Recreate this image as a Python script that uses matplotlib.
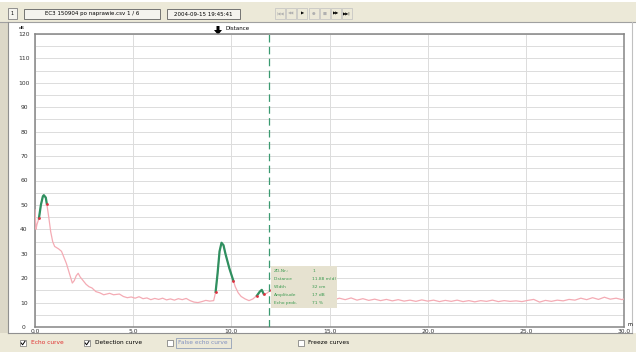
import numpy as np
import matplotlib
matplotlib.use('Agg')
import matplotlib.pyplot as plt
from matplotlib.patches import Rectangle, Polygon

# === Echo curve (distance in m, level in dB) ===
echo_dist = [0.0, 0.05, 0.1, 0.2, 0.3, 0.4, 0.45, 0.55, 0.6, 0.7, 0.8, 0.9, 1.0, 1.1, 1.2,
             1.35, 1.5, 1.6, 1.75, 1.9, 2.0, 2.1, 2.2, 2.3, 2.45, 2.6, 2.75, 2.9, 3.1, 3.3,
             3.5, 3.8, 4.0, 4.3, 4.5, 4.7, 4.9, 5.1, 5.3, 5.5, 5.7, 5.9, 6.1, 6.3, 6.5, 6.7,
             6.9, 7.1, 7.3, 7.5, 7.7, 7.9, 8.1, 8.3, 8.5, 8.7, 8.9, 9.1, 9.15, 9.2, 9.3, 9.4,
             9.5, 9.6, 9.7, 9.8, 9.9, 10.0, 10.1, 10.2, 10.35, 10.5, 10.7, 10.9, 11.1, 11.2,
             11.3, 11.45, 11.55, 11.65, 11.8, 12.0, 12.2, 12.5, 12.8, 13.2, 13.6, 14.0, 14.4,
             14.8, 15.2, 15.5, 15.8, 16.1, 16.4, 16.7, 17.0, 17.3, 17.6, 17.9, 18.2, 18.5,
             18.8, 19.1, 19.4, 19.7, 20.0, 20.3, 20.6, 20.9, 21.2, 21.5, 21.8, 22.1, 22.4,
             22.7, 23.0, 23.3, 23.6, 23.9, 24.2, 24.5, 24.8, 25.1, 25.4, 25.7, 26.0, 26.3,
             26.6, 26.9, 27.2, 27.5, 27.8, 28.1, 28.4, 28.7, 29.0, 29.3, 29.6, 29.9, 30.0]
echo_db = [48, 40, 42, 44.5, 50, 53.5, 54, 53, 50.5, 45, 39, 35, 33, 32.5, 32,
           31, 28, 26, 22, 18, 19, 21, 22, 20.5, 19, 17.5, 16.5, 16, 14.5, 14,
           13.2, 13.8, 13.2, 13.5, 12.5, 12.0, 12.3, 11.8, 12.4, 11.6, 11.9, 11.2, 11.7, 11.3, 11.8, 11.1,
           11.5, 11.0, 11.6, 11.2, 11.7, 10.8, 10.2, 10.0, 10.4, 10.9, 10.6, 10.8, 12.5, 14.4, 22, 31,
           34.5, 33.5, 30, 27, 24, 21.5, 19, 16.5, 14, 12.5, 11.5, 10.8, 11.5, 12.2,
           12.8, 14.5, 15.2, 13.5, 13.8, 15, 12.5, 11.5, 11.2, 11.0, 11.3, 10.8, 11.2,
           11.5, 11.0, 11.8, 11.2, 11.9, 11.0, 11.6, 10.9, 11.4, 10.8, 11.3, 10.7, 11.2,
           10.6, 11.0, 10.5, 11.1, 10.6, 11.0, 10.4, 10.9, 10.5, 11.0, 10.4, 10.8, 10.3,
           10.8, 10.5, 11.0, 10.4, 10.8, 10.5, 10.7, 10.4, 10.9, 11.3, 10.2, 10.9, 10.5,
           11.0, 10.7, 11.3, 11.0, 11.8, 11.2, 12.0, 11.3, 12.2, 11.4, 11.8, 11.2, 11.5]

# === Detection curve segments (green) ===
det_segments = [(0.2, 0.6), (9.2, 10.1), (11.3, 11.65)]
marker_dist = [0.2, 0.6, 9.2, 10.1, 11.3, 11.65, 12.0]

# === Marker / info box ===
cursor_dist = 11.9
info_labels = ['ZD-Nr.:', 'Distance', 'Width', 'Amplitude', 'Echo prob.']
info_values = ['1', '11.88 m(d)', '32 cm', '17 dB', '71 %']

y_ticks = list(range(0, 121, 10))
x_ticks = [0.0, 5.0, 10.0, 15.0, 20.0, 25.0, 30.0]

# === Colours ===
ui_beige = '#ece9d8'
pink = '#f4abb4'
green = '#2f9060'
red = '#e03040'

W, H = 636, 352
fig = plt.figure(figsize=(W / 100, H / 100), dpi=100)
fig.patch.set_facecolor('white')

# background axes in pixel coords for the window chrome
bg = fig.add_axes([0, 0, 1, 1])
bg.set_xlim(0, W)
bg.set_ylim(H, 0)
bg.axis('off')

# toolbar
bg.add_patch(Rectangle((0, 2), W, 20, fc=ui_beige, ec='none'))
bg.plot([0, W], [22, 22], color='#a0a0a0', lw=0.8)
bg.add_patch(Rectangle((8, 8), 9, 11, fc='#f4f3ee', ec='#808080', lw=0.6))
bg.text(12.5, 13.5, '1', fontsize=3.5, ha='center', va='center')
bg.add_patch(Rectangle((24, 9), 136, 10, fc='#f4f3ee', ec='#606060', lw=0.6))
bg.text(92, 14, 'EC3 150904 po naprawie.csv 1 / 6', fontsize=4, ha='center', va='center')
bg.add_patch(Rectangle((167, 9), 73, 10, fc='#f4f3ee', ec='#606060', lw=0.6))
bg.text(203.5, 14, '2004-09-15 19:45:41', fontsize=4, ha='center', va='center')
btn_syms = ['|◀◀', '◀◀', '▶', '●', '■', '▶▶', '▶▶|']
btn_cols = ['#b0b0b0', '#b0b0b0', 'black', '#b0b0b0', '#b0b0b0', 'black', 'black']
for i, (s, c) in enumerate(zip(btn_syms, btn_cols)):
    x0 = 275 + i * 11.2
    bg.add_patch(Rectangle((x0, 8), 10, 11, fc=ui_beige, ec='#c0c0c0', lw=0.5))
    bg.text(x0 + 5, 13.5, s, fontsize=3, ha='center', va='center', color=c)

# left strip and bottom bar
bg.add_patch(Rectangle((0, 22), 8, 312, fc='#dcd8c8', ec='none'))
bg.plot([8, 8], [22, 333], color='#909090', lw=0.8)
bg.plot([632, 632], [22, 333], color='#c0c0c0', lw=0.8)
bg.add_patch(Rectangle((0, 333), W, 19, fc=ui_beige, ec='none'))
bg.plot([8, 632], [333, 333], color='#909090', lw=0.8)

def checkbox(x, y, checked):
    bg.add_patch(Rectangle((x, y - 3), 6, 6, fc='white', ec='#707070', lw=0.5))
    if checked:
        bg.plot([x + 1.2, x + 2.6, x + 5], [y, y + 1.8, y - 1.8], color='black', lw=0.7)

checkbox(20, 343, True)
bg.text(31, 343, 'Echo curve', fontsize=4.2, color='#e03030', va='center')
checkbox(84, 343, True)
bg.text(95, 343, 'Detection curve', fontsize=4.2, va='center')
checkbox(167, 343, False)
bg.add_patch(Rectangle((176, 338), 55, 10, fc='none', ec='#8090b0', lw=0.5))
bg.text(178, 343, 'False echo curve', fontsize=4.2, color='#8090c0', va='center')
checkbox(298, 343, False)
bg.text(308, 343, 'Freeze curves', fontsize=4.2, va='center')

# distance arrow
bg.add_patch(Polygon([[216.5, 26], [219.5, 26], [219.5, 30], [222, 30], [218, 35], [214, 30], [216.5, 30]],
                     closed=True, fc='black', ec='none'))
bg.text(225, 29, 'Distance', fontsize=4, va='center')
bg.text(22, 28, 'dB', fontsize=3.2, ha='center', va='center')
bg.text(627, 325, 'm', fontsize=3.5, ha='left', va='center')

# === Plot ===
ax = fig.add_axes([35 / W, (H - 327) / H, 589 / W, 293 / H])
ax.set_facecolor('white')
ax.set_xlim(0, 30)
ax.set_ylim(0, 120)
ax.set_yticks(y_ticks)
ax.set_yticks(np.arange(5, 120, 10), minor=True)
ax.set_xticks(x_ticks)
ax.set_xticklabels([f'{v:.1f}' for v in x_ticks], fontsize=4.3, color='#303030')
ax.set_yticklabels([str(v) for v in y_ticks], fontsize=4.3, color='#303030', ha='center')
ax.tick_params(axis='both', which='both', length=0)
ax.tick_params(axis='y', pad=8)
ax.tick_params(axis='x', pad=1.5)
ax.grid(True, which='both', color='#dcdcdc', lw=0.7)
ax.set_axisbelow(True)
for sp in ax.spines.values():
    sp.set_color('#858585')
    sp.set_linewidth(1.1)

ed = np.array(echo_dist)
eb = np.array(echo_db)
ax.plot(ed, eb, color=pink, lw=0.9, zorder=3)
for a, b in det_segments:
    m = (ed >= a - 1e-9) & (ed <= b + 1e-9)
    ax.plot(ed[m], eb[m], color=green, lw=1.6, zorder=4)
ax.scatter(marker_dist, np.interp(marker_dist, ed, eb), s=4, color=red, zorder=5, lw=0)

ax.axvline(cursor_dist, color='#3a9a70', lw=0.9, ls=(0, (6, 3.5)), zorder=4)

# info box
bx0, bx1 = (271 - 35) / 19.63, (337 - 35) / 19.63
by0, by1 = (327 - 308) / 2.442, (327 - 266) / 2.442
ax.add_patch(Rectangle((bx0, by0), bx1 - bx0, by1 - by0, fc='#e6e2d0', ec='none', zorder=6))
row_px = [271, 279, 287, 295, 303]
for lab, val, py in zip(info_labels, info_values, row_px):
    yy = (327 - py) / 2.442
    ax.text((274 - 35) / 19.63, yy, lab, fontsize=3.2, color='#3a9a50', va='center', zorder=7)
    ax.text((312 - 35) / 19.63, yy, val, fontsize=3.2, color='#3a9a50', va='center', zorder=7)

fig.savefig('out.png', dpi=100)
